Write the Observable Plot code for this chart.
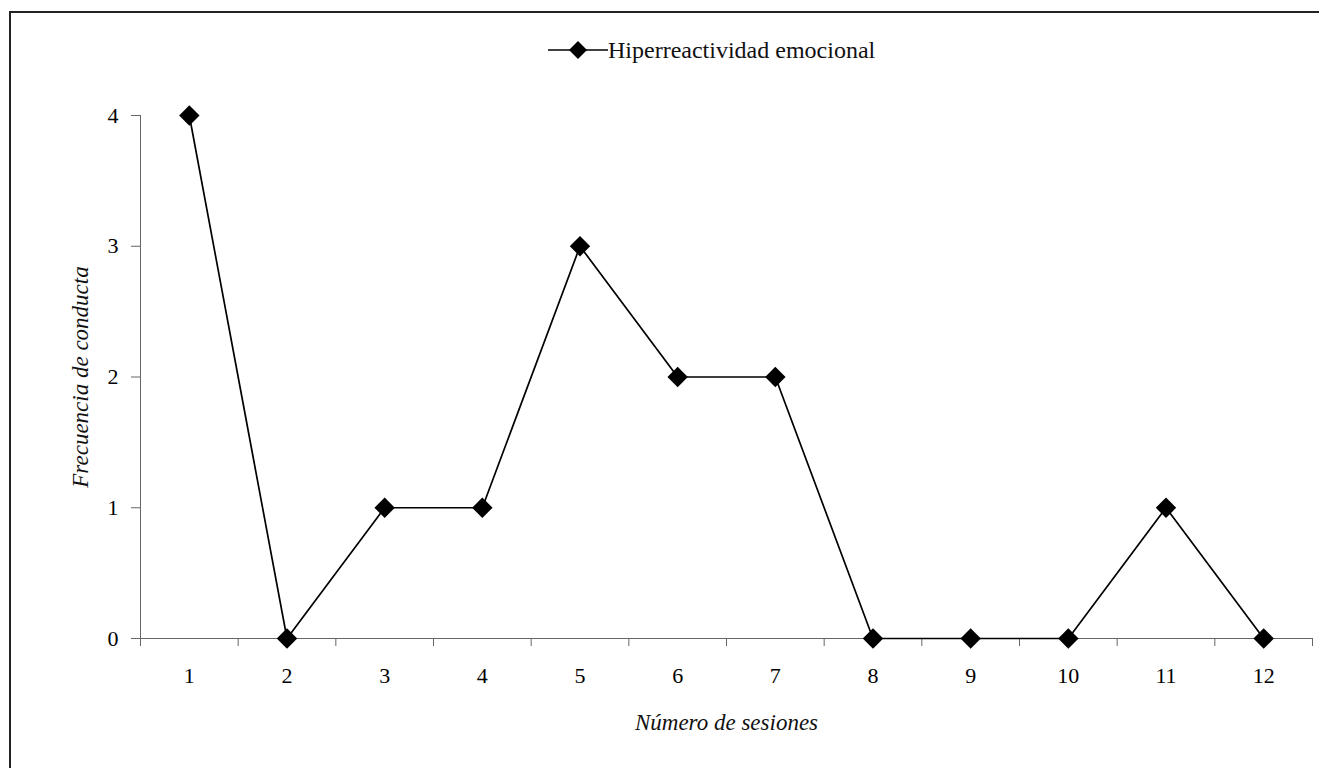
<!DOCTYPE html>
<html><head><meta charset="utf-8">
<script src="https://cdn.jsdelivr.net/npm/d3@7"></script>
<script src="https://cdn.jsdelivr.net/npm/@observablehq/plot@0.6"></script>
<style>
html,body{margin:0;padding:0;background:#fff;overflow:hidden;width:1319px;height:768px;}
#frame{position:absolute;left:9px;top:11px;width:1400px;height:900px;border:2px solid #222;box-sizing:border-box;pointer-events:none;}
#legend{position:relative;height:80px;font-family:"Liberation Serif","Times New Roman",serif;font-size:24px;color:#111;}
#legend .item{position:absolute;left:548px;top:37px;display:flex;align-items:center;height:26px;}
#legend .item span{line-height:26px;}
#chart{position:relative;}
</style></head><body>
<div id="frame"></div>
<div id="legend"></div>
<div id="chart"></div>
<script>
const sesiones = [1, 2, 3, 4, 5, 6, 7, 8, 9, 10, 11, 12];
const frecuencia = [4, 0, 1, 1, 3, 2, 2, 0, 0, 0, 1, 0];
const yTicks = [0, 1, 2, 3, 4];
const serieNombre = "Hiperreactividad emocional";
const xTitulo = "Número de sesiones";
const yTitulo = "Frecuencia de conducta";

// legend
const leg = document.createElement("div");
leg.className = "item";
leg.innerHTML = `<svg width="60" height="26" style="display:block"><line x1="0" x2="60" y1="13" y2="13" stroke="#000" stroke-width="1.6"/><polygon points="30,4 39,13 30,22 21,13" fill="#000"/></svg><span>${serieNombre}</span>`;
document.getElementById("legend").appendChild(leg);

const data = sesiones.map((s, i) => ({sesion: s, valor: frecuencia[i]}));
const xMin = d3.min(sesiones) - 0.5, xMax = d3.max(sesiones) + 0.5;
const bounds = d3.range(sesiones.length + 1).map(i => xMin + i);

const chart = Plot.plot({
  width: 1319, height: 688,
  marginLeft: 140, marginRight: 7, marginTop: 35, marginBottom: 130,
  style: {fontFamily: '"Liberation Serif", "Times New Roman", serif', fontSize: "22px", color: "#000", background: "transparent", overflow: "visible"},
  x: {domain: [xMin, xMax]},
  y: {domain: [d3.min(yTicks), d3.max(yTicks)]},
  marks: [
    Plot.ruleY([0], {stroke: "#666", strokeWidth: 1}),
    Plot.ruleX([xMin], {stroke: "#666", strokeWidth: 1}),
    Plot.axisY({ticks: yTicks, tickSize: 9, tickPadding: 13, stroke: "#666", fill: "#000", label: null, fontSize: 22, tickFormat: d => String(d)}),
    Plot.axisX({ticks: sesiones, tickSize: 0, tickPadding: 29, label: null, fill: "#000", fontSize: 22, tickFormat: d => String(d)}),
    Plot.axisX({ticks: bounds, tickSize: 8, stroke: "#666", label: null, tickFormat: () => ""}),
    Plot.line(data, {x: "sesion", y: "valor", stroke: "#000", strokeWidth: 1.7}),
    Plot.dot(data, {x: "sesion", y: "valor", symbol: "diamond2", r: 9.2, fill: "#000", stroke: "none"}),
    Plot.text([xTitulo], {text: d => d, frameAnchor: "bottom", dy: 91, fontStyle: "italic", fontSize: 23, fill: "#111"}),
    Plot.text([yTitulo], {text: d => d, frameAnchor: "left", textAnchor: "middle", dx: -60, rotate: -90, fontStyle: "italic", fontSize: 23, fill: "#111"})
  ]
});
document.getElementById("chart").appendChild(chart);
</script>
</body></html>
